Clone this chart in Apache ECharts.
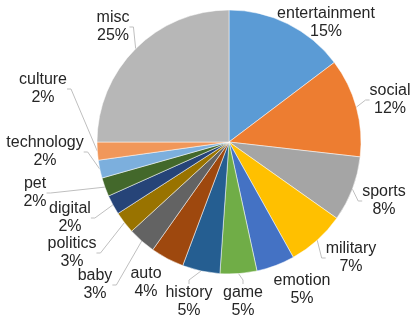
<!DOCTYPE html>
<html>
<head>
<meta charset="utf-8">
<script src="https://cdn.jsdelivr.net/npm/echarts@6/dist/echarts.min.js"></script>
<style>
  html, body { margin: 0; padding: 0; background: #fff; }
  #pieChart { width: 416px; height: 322px; }
</style>
</head>
<body>
<div id="pieChart"></div>
<script>
// 类别和占比
const categories = ["entertainment", "social", "sports", "military", "emotion", "game", "history",
  "auto", "baby", "politics", "digital", "pet", "technology", "culture", "misc"];
const shares = [14.7, 12.1, 8.0, 7.1, 4.7, 4.5, 4.6, 4.1, 3.4, 2.7, 2.4, 2.3, 2.2, 2.2, 25.0];
const colors = ["#5B9BD5", "#ED7D31", "#A5A5A5", "#FFC000", "#4472C4", "#70AD47", "#255E91",
  "#9E480E", "#636363", "#997300", "#264478", "#43682B", "#7CAFDD", "#F1975A", "#B7B7B7"];

// 饼图中心和半径
const cx = 229, cy = 142, R = 132;
// 标签中心相对饼图中心的偏移（照着原图摆）
const labelSpots = {
  entertainment: [97, -119],
  social: [161, -42],
  sports: [155, 59],
  military: [122, 116],
  emotion: [73, 148],
  game: [14, 160],
  history: [-40, 160],
  auto: [-83, 141],
  baby: [-134, 143],
  politics: [-157, 111],
  digital: [-159, 76],
  pet: [-194, 51],
  technology: [-184, 10],
  culture: [-186, -53],
  misc: [-116, -115],
};
// 这几个标签没有引导线
const noLine = ["entertainment", "emotion", "auto"];

var myChart = echarts.init(document.getElementById("pieChart"));

const pieData = categories.map((name, i) => ({
  name: name,
  value: shares[i],
  itemStyle: { color: colors[i] },
  labelLine: { show: noLine.indexOf(name) < 0 },
}));

var option = {
  animation: false,
  series: [
    {
      type: "pie",
      center: [cx, cy],
      radius: R,
      startAngle: 90,
      clockwise: true,
      percentPrecision: 0,
      avoidLabelOverlap: false,
      itemStyle: { borderColor: "#fff", borderWidth: 0.5 },
      label: {
        position: "outside",
        formatter: "{b}\n{d}%",
        fontFamily: "Liberation Sans, Arial, sans-serif",
        fontSize: 16,
        lineHeight: 18,
        color: "#262626",
        overflow: "none",
      },
      labelLine: {
        length: 4,
        length2: 4,
        lineStyle: { color: "#bfbfbf", width: 1 },
      },
      labelLayout: params => {
        const off = labelSpots[categories[params.dataIndex]];
        return {
          x: cx + off[0],
          y: cy + off[1],
          align: "center",
          verticalAlign: "middle",
          hideOverlap: false,
        };
      },
      data: pieData,
    },
  ],
};
myChart.setOption(option);
</script>
</body>
</html>
